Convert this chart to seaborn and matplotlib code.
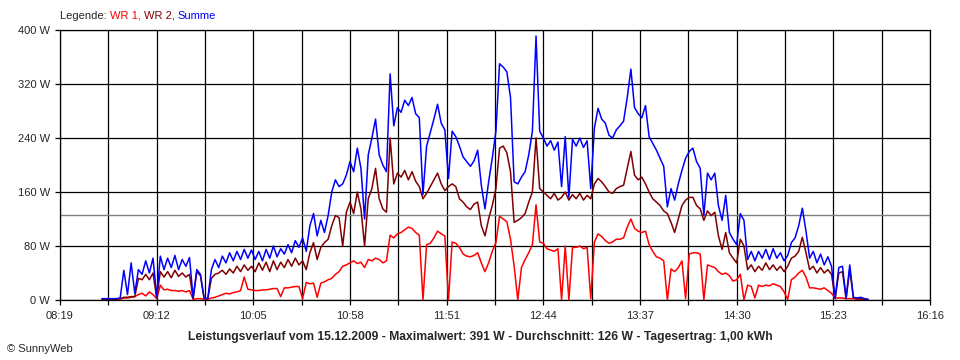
import matplotlib
matplotlib.use("Agg")
import matplotlib.pyplot as plt
import matplotlib.dates as mdates
import pandas as pd
import seaborn as sns

# one sample every 2 minutes, starting 08:42
DAY = "2009-12-15"
START = "08:42"
STEP = "2min"

wr1 = [1, 1, 1, 1, 1, 1,
       3, 3, 4, 5,
       8, 10, 6, 12, 8,
       2,
       22, 15, 16, 14, 14, 13, 14, 12, 14,
       1, 2, 2, 1, 1,
       3, 4, 6, 8, 10, 9, 11, 12, 14, 34, 16, 15,
       14, 14, 15, 15, 16, 17, 17, 5, 18, 18, 19, 20, 20,
       2, 26, 24, 25, 4, 25, 27, 30, 32, 38, 42,
       50, 52, 55, 58, 54, 56, 48, 60, 58, 62, 60, 55, 58,
       96, 92, 98, 100, 104, 108, 106, 100, 96,
       0, 82, 84, 92, 102, 98, 95,
       0, 86, 84, 78, 68, 65, 64, 66, 70, 55, 42, 55, 72, 85,
       124, 120, 116, 90, 50, 0, 48, 60, 70, 82, 141, 86, 84,
       76, 74, 72, 76, 0, 80, 0, 78, 78, 80, 76, 78, 2,
       86, 98, 94, 88, 84, 86, 90, 90, 92, 108, 120, 106, 102, 100, 102,
       82, 72, 64, 62, 58, 0, 46, 42, 48, 58, 2, 68,
       70, 70, 68, 0, 52, 50, 48, 42, 38, 40, 36, 28, 30, 38, 0,
       22, 20, 3, 22, 20, 22, 21, 24, 22, 20, 12, 1,
       30, 34, 40, 44, 34, 18, 18, 17, 16, 18, 14, 10,
       3, 3, 3, 2, 2, 2, 1, 1, 1, 0]

wr2 = [1, 1, 1, 1, 1, 2,
       4, 4, 5, 5,
       32, 30, 38, 30, 40,
       3,
       42, 34, 42, 33, 44, 35, 40, 34, 38,
       2, 42, 36, 2, 1,
       32, 38, 40, 44, 38, 46, 40, 50, 42, 52, 44, 50,
       42, 55, 44, 56, 42, 58, 45, 56, 48, 60, 50, 62, 52,
       58, 45, 70, 85, 60, 78, 85, 90, 110, 125, 122,
       80, 130, 145, 128, 160, 135, 80, 150, 165, 195, 150, 135, 130,
       240, 172, 188, 182, 192, 178, 190, 176, 168,
       150, 158, 168, 178, 188, 172, 162,
       168, 172, 168, 150, 145, 138, 134, 142, 145, 110, 95, 120, 140, 165,
       225, 228, 218, 190, 115, 118, 122, 128, 145, 160, 240, 165, 160,
       155, 150, 158, 148, 152, 160, 148, 156, 150, 158, 148, 155, 150,
       172, 180, 175, 168, 160, 158, 165, 168, 170, 195, 220, 185, 178, 182, 172,
       160, 150, 145, 140, 132, 128, 115, 100, 120, 140, 148, 152,
       152, 140, 135, 118, 132, 125, 130, 95, 75, 100, 70, 62, 55, 90, 80,
       45, 52, 42, 50, 44, 55, 45, 52, 44, 50, 42, 50,
       62, 65, 72, 93, 70, 45, 50, 40, 48, 40, 45, 38,
       2, 40, 42, 2, 45, 3, 2, 2, 1, 1]

summe = [2, 2, 2, 2, 2, 3,
         44, 8, 55, 10,
         45, 38, 58, 40, 62,
         5,
         65, 45, 62, 48, 66, 45, 60, 50, 63,
         3, 45, 38, 3, 2,
         45, 60, 48, 65, 55, 70, 58, 72, 60, 75, 62, 74,
         60, 72, 58, 75, 62, 80, 64, 76, 68, 82, 70, 88, 78,
         92, 72, 110, 128, 95, 118, 100, 125, 160, 178, 168,
         172, 185, 205, 190, 225, 195, 120, 215, 240, 268, 215, 200, 190,
         335, 258, 285, 278, 296, 288, 300, 276, 270,
         156, 228, 248, 268, 290, 262, 252,
         180, 250, 242, 228, 212, 205, 198, 206, 222, 170, 135, 175, 210, 250,
         350, 345, 338, 300, 175, 172, 182, 190, 215, 250, 391, 250, 240,
         228, 236, 222, 234, 168, 242, 152, 238, 228, 240, 226, 236, 165,
         255, 284, 268, 262, 244, 240, 252, 258, 265, 300, 342, 285, 276, 270, 288,
         242, 232, 222, 210, 198, 138, 165, 148, 172, 192, 210, 220,
         225, 205, 195, 125, 188, 178, 188, 140, 118, 155, 100, 90, 82, 128, 118,
         60, 72, 58, 72, 62, 75, 60, 76, 62, 70, 58, 66,
         85, 92, 110, 136, 102, 62, 72, 55, 68, 52, 64, 50,
         3, 48, 50, 3, 52, 4, 3, 4, 2, 1]

AVG_W = 126
X_START, X_END = "08:19", "16:16"
X_TICK_STEP = "53min"
Y_TICKS = [0, 80, 160, 240, 320, 400]
COLORS = {"WR 1": "#ff0000", "WR 2": "#800000", "Summe": "#0000ff"}
TITLE = ("Leistungsverlauf vom 15.12.2009 - Maximalwert: 391 W - "
         "Durchschnitt: 126 W - Tagesertrag: 1,00 kWh")

times = pd.date_range(f"{DAY} {START}", periods=len(summe), freq=STEP)
df = pd.DataFrame({"Zeit": times, "WR 1": wr1, "WR 2": wr2, "Summe": summe})
long = df.melt(id_vars="Zeit", var_name="Serie", value_name="Leistung")

sns.set_style("white")
plt.rcParams["font.family"] = ["Liberation Sans", "DejaVu Sans"]
plt.rcParams["font.size"] = 8

fig = plt.figure(figsize=(9.6, 3.6), dpi=100)
ax = fig.add_axes([60 / 960, 1 - 300 / 360, 870 / 960, 270 / 360])

sns.lineplot(data=long, x="Zeit", y="Leistung", hue="Serie",
             hue_order=["WR 1", "WR 2", "Summe"], palette=COLORS,
             estimator=None, legend=False, linewidth=1.1, ax=ax, zorder=3)
ax.axhline(AVG_W, color="#808080", linewidth=1.0, zorder=2)

t0 = pd.Timestamp(f"{DAY} {X_START}")
t1 = pd.Timestamp(f"{DAY} {X_END}")
major = pd.date_range(t0, t1, freq=X_TICK_STEP)
minor = major[:-1] + pd.Timedelta(X_TICK_STEP) / 2
ax.set_xlim(t0, t1)
ax.set_xticks(major)
ax.set_xticks(minor, minor=True)
ax.xaxis.set_major_formatter(mdates.DateFormatter("%H:%M"))
ax.set_ylim(0, 400)
ax.set_yticks(Y_TICKS)
ax.set_yticklabels([f"{v} W" for v in Y_TICKS])
ax.set_xlabel("")
ax.set_ylabel("")

ax.grid(True, which="both", color="black", linewidth=0.9, zorder=1)
ax.set_axisbelow(True)
for s in ax.spines.values():
    s.set_visible(True)
    s.set_color("black")
    s.set_linewidth(0.9)
ax.tick_params(axis="both", which="both", direction="out", length=3.6,
               width=0.9, color="black", labelsize=8)
ax.tick_params(axis="x", which="both", bottom=True, pad=4)
ax.tick_params(axis="y", left=True, pad=3.6)

# legend line at the top
t = fig.text(60 / 960, 1 - 16 / 360, "Legende: ", va="center", fontsize=8)
for name, txt in [("WR 1", "WR 1, "), ("WR 2", "WR 2, "), ("Summe", "Summe")]:
    t = ax.annotate(txt, xy=(1, 0), xycoords=t, va="bottom", ha="left",
                    color=COLORS[name], fontsize=8, annotation_clip=False)

fig.text(0.5, 1 - 337 / 360, TITLE, ha="center", va="center",
         fontsize=8.7, fontweight="bold")
fig.text(7 / 960, 1 - 349 / 360, "© SunnyWeb", va="center", fontsize=8)

fig.savefig("out.png", dpi=100)
